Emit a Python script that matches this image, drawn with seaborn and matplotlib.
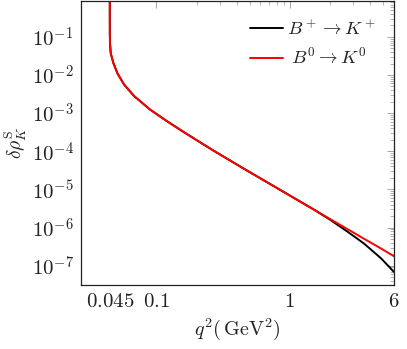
import numpy as np
import pandas as pd
import matplotlib
matplotlib.use("Agg")
import matplotlib.pyplot as plt
import matplotlib.ticker as mticker
import seaborn as sns

# Values
q2_red = [0.04470, 0.04471, 0.04474, 0.04485, 0.04548, 0.04766, 0.05107, 0.05727,
          0.06807, 0.0897, 0.1197, 0.1596, 0.2683, 0.4783, 0.8513, 1.515, 2.023,
          2.701, 3.601, 4.808, 6.0]
rho_red = [1.2, 0.3, 0.12, 0.0684, 0.0367, 0.0201, 0.01099, 5.60e-3,
           2.795e-3, 1.239e-3, 6.19e-4, 3.225e-4, 1.038e-4, 3.124e-5, 9.64e-6, 2.97e-6, 1.644e-6,
           9.16e-7, 5.10e-7, 2.86e-7, 1.80e-7]

q2_black = [0.04470, 0.04471, 0.04474, 0.04485, 0.04548, 0.04766, 0.05107, 0.05727,
            0.06807, 0.0897, 0.1197, 0.1596, 0.2683, 0.4783, 0.8513, 1.515, 2.023,
            2.701, 3.601, 4.808, 5.553, 6.0]
rho_black = [1.2, 0.3, 0.12, 0.0684, 0.0367, 0.0201, 0.01099, 5.60e-3,
             2.795e-3, 1.239e-3, 6.19e-4, 3.225e-4, 1.038e-4, 3.124e-5, 9.64e-6, 2.97e-6, 1.58e-6,
             7.88e-7, 3.82e-7, 1.59e-7, 9.42e-8, 6.97e-8]

series_labels = [r"$B^+ \to K^+$", r"$B^0 \to K^0$"]
legend_labels = [r"$B^+ \to K^+$", r"$\;B^0 \to K^0$"]
x_ticks = [0.045, 0.1, 1, 6]
x_tick_labels = [r"$0.045$", r"$0.1$", r"$1$", r"$6$"]
x_minor = [0.2, 0.3, 0.4, 0.5, 0.6, 0.7, 0.8, 0.9, 2, 3, 4, 5]

df = pd.DataFrame({
    "q2": q2_black + q2_red,
    "rho": rho_black + rho_red,
    "series": [series_labels[0]] * len(q2_black) + [series_labels[1]] * len(q2_red),
})

sns.set_theme(style="white")
plt.rcParams["mathtext.fontset"] = "cm"
plt.rcParams["font.family"] = ["DejaVu Serif"]

fig = plt.figure(figsize=(4.07, 3.49), dpi=100)
ax = fig.add_axes([0.198, 0.1834, 0.769, 0.8146])

sns.lineplot(data=df, x="q2", y="rho", hue="series", estimator=None, sort=False,
             palette={series_labels[0]: "black", series_labels[1]: "#ff0000"},
             linewidth=1.4, ax=ax, legend=True)

ax.set_xscale("log")
ax.set_yscale("log")
ax.set_xlim(0.027, 6.0)
ax.set_ylim(3.13e-8, 0.887)

ax.xaxis.set_major_locator(mticker.FixedLocator(x_ticks))
ax.xaxis.set_major_formatter(mticker.FixedFormatter(x_tick_labels))
ax.xaxis.set_minor_locator(mticker.FixedLocator(x_minor))
ax.xaxis.set_minor_formatter(mticker.NullFormatter())

ax.yaxis.set_major_locator(mticker.LogLocator(base=10, numticks=20))
ax.yaxis.set_minor_locator(mticker.LogLocator(base=10, subs=np.arange(2, 10), numticks=20))
ax.yaxis.set_major_formatter(mticker.FuncFormatter(lambda v, p: r"$10^{%d}$" % int(round(np.log10(v)))))
ax.yaxis.set_minor_formatter(mticker.NullFormatter())

ax.tick_params(which="both", direction="in", top=True, right=True, color="0.65",
               labelsize=15, labelcolor="#222222")
ax.tick_params(which="major", length=5, width=0.7, pad=5)
ax.tick_params(which="minor", length=3.2, width=0.6)

for s in ax.spines.values():
    s.set_color("#222222")
    s.set_linewidth(0.9)

ax.set_xlabel(r"$q^2(\,\mathrm{GeV}^2)$", fontsize=14.5, color="#222222", labelpad=4)
ax.set_ylabel(r"$\delta\rho_{K}^{\mathrm{S}}$", fontsize=14, color="#222222", labelpad=2)

handles, _ = ax.get_legend_handles_labels()
leg = ax.legend(handles, legend_labels, loc="upper right", frameon=False, fontsize=13.5,
                handlelength=1.75, handletextpad=0.2, labelspacing=0.45,
                borderpad=0, borderaxespad=0, bbox_to_anchor=(0.943, 0.937))
for t in leg.get_texts():
    t.set_color("#222222")

fig.savefig("out.png", dpi=100)
